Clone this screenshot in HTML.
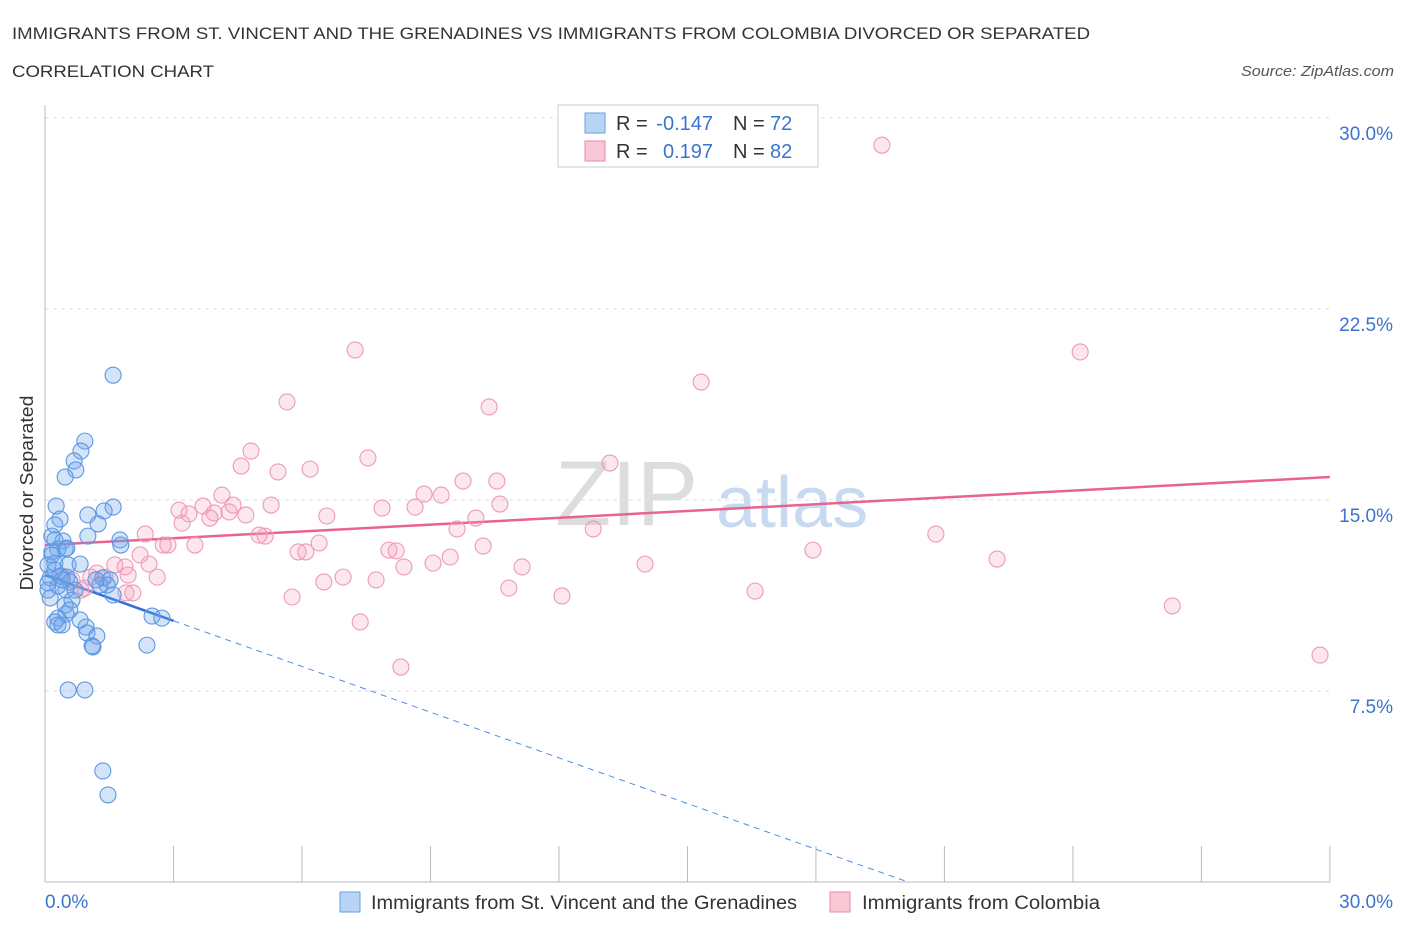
<!DOCTYPE html>
<html><head><meta charset="utf-8"><style>
body{margin:0;background:#fff;font-family:"Liberation Sans",sans-serif;}
svg text{font-family:"Liberation Sans",sans-serif;}
</style></head><body>
<svg id="c" width="1406" height="930" xmlns="http://www.w3.org/2000/svg">
<text x="12" y="39" font-size="17" fill="#333" textLength="1078" lengthAdjust="spacingAndGlyphs">IMMIGRANTS FROM ST. VINCENT AND THE GRENADINES VS IMMIGRANTS FROM COLOMBIA DIVORCED OR SEPARATED</text>
<text x="12" y="77" font-size="17" fill="#333" textLength="202" lengthAdjust="spacingAndGlyphs">CORRELATION CHART</text>
<text x="1241" y="76" font-size="15" fill="#555" font-style="italic" textLength="153" lengthAdjust="spacingAndGlyphs">Source: ZipAtlas.com</text>
<text x="33" y="493" font-size="18" fill="#333" text-anchor="middle" textLength="195" lengthAdjust="spacingAndGlyphs" transform="rotate(-90 33 493)">Divorced or Separated</text>
<g><text x="555" y="525" font-size="92" fill="#ddd" font-family="Liberation Serif">ZIP</text><text x="716" y="527" font-size="72" fill="#c8daf2">atlas</text></g>
<g id="grid"></g><g id="axes"></g><g id="trends"></g><g id="pts"></g>
<g>
<rect x="558" y="105" width="260" height="62" fill="#fff" stroke="#ccc"/>
<rect x="585" y="113" width="20" height="20" fill="#b8d4f5" stroke="#6a9ee0"/>
<rect x="585" y="141" width="20" height="20" fill="#f9c8d6" stroke="#e88aa8"/>
<text x="616" y="130" font-size="20" fill="#333">R =</text>
<text x="713" y="130" font-size="20" fill="#3b73d0" text-anchor="end">-0.147</text>
<text x="733" y="130" font-size="20" fill="#333">N =</text>
<text x="770" y="130" font-size="20" fill="#3b73d0">72</text>
<text x="616" y="158" font-size="20" fill="#333">R =</text>
<text x="713" y="158" font-size="20" fill="#3b73d0" text-anchor="end">0.197</text>
<text x="733" y="158" font-size="20" fill="#333">N =</text>
<text x="770" y="158" font-size="20" fill="#3b73d0">82</text>
</g>
<g>
<rect x="340" y="892" width="20" height="20" fill="#b8d4f5" stroke="#6a9ee0"/>
<text x="371" y="909" font-size="19" fill="#333" textLength="426" lengthAdjust="spacingAndGlyphs">Immigrants from St. Vincent and the Grenadines</text>
<rect x="830" y="892" width="20" height="20" fill="#f9c8d6" stroke="#e88aa8"/>
<text x="862" y="909" font-size="19" fill="#333" textLength="238" lengthAdjust="spacingAndGlyphs">Immigrants from Colombia</text>
</g>
</svg>
<script>
const yTicks=[7.5,15,22.5,30];
const yTickLabels=["7.5%","15.0%","22.5%","30.0%"];
const xTicks=[0,3,6,9,12,15,18,21,24,27,30];
const blueX=[1.59,0.93,0.84,0.68,0.72,0.47,0.26,1.59,1.38,1.00,0.35,1.24,0.23,1.75,1.77,1.00,0.16,0.42,0.47,0.30,0.16,0.51,0.23,0.07,0.54,0.82,0.12,0.35,0.51,0.58,1.35,1.52,1.28,1.45,0.49,0.30,0.70,0.63,1.59,0.12,0.47,0.30,0.49,0.23,0.30,0.40,0.96,0.98,1.21,2.50,2.73,1.10,1.12,2.38,0.54,0.93,1.35,1.47,0.16,0.07,0.23,0.40,0.07,0.58,0.23,0.82,1.19];
const blueY=[19.90,17.31,16.92,16.53,16.18,15.90,14.76,14.72,14.57,14.41,14.25,14.06,14.02,13.43,13.23,13.58,13.58,13.39,13.07,13.07,12.96,13.11,12.52,12.45,12.45,12.48,11.94,12.01,11.97,11.78,11.94,11.86,11.66,11.66,11.46,11.62,11.46,11.07,11.27,11.15,10.87,10.36,10.52,10.21,10.09,10.09,10.01,9.78,9.66,10.44,10.36,9.27,9.23,9.30,7.54,7.54,4.36,3.42,12.84,11.74,12.25,11.86,11.46,10.68,13.43,10.29,11.86];
const pinkX=[19.54,7.24,24.17,15.32,5.65,10.37,4.81,7.54,4.58,13.19,5.44,6.19,9.76,10.55,4.13,8.85,9.25,5.28,3.13,3.69,4.39,3.36,3.95,4.30,4.69,7.87,8.64,10.62,6.58,3.20,3.85,10.06,9.62,12.80,2.34,5.00,5.14,20.80,2.87,2.76,3.50,6.40,10.23,17.93,8.03,8.20,5.91,6.09,2.22,22.23,2.43,9.46,9.06,8.38,14.01,11.14,1.63,1.87,1.94,1.21,2.62,6.96,7.73,6.51,1.07,1.40,10.83,16.58,0.84,1.89,2.05,5.77,12.07,26.32,7.36,29.77,8.31,0.40,0.63,0.93];
const pinkY=[28.93,20.89,20.81,19.63,18.85,18.65,16.92,16.65,16.33,16.45,16.10,16.21,15.74,15.74,15.19,15.23,15.19,14.80,14.60,14.76,14.80,14.45,14.49,14.53,14.41,14.68,14.72,14.84,14.37,14.09,14.29,14.29,13.86,13.86,13.66,13.62,13.58,13.66,13.23,13.23,13.23,13.31,13.19,13.03,13.03,13.00,12.96,12.96,12.84,12.68,12.48,12.76,12.52,12.37,12.48,12.37,12.45,12.37,12.05,12.13,11.97,11.97,11.86,11.78,11.97,11.97,11.54,11.42,11.46,11.35,11.35,11.19,11.23,10.84,10.21,8.91,8.44,12.01,11.86,11.54];
const blueTrend=[12.05,-0.598];
const pinkTrend=[13.23,0.089];
const NS="http://www.w3.org/2000/svg";
const X=v=>45+v*42.83, Y=v=>882-v*25.47;
function mk(t,p,a){const e=document.createElementNS(NS,t);for(const k in a)e.setAttribute(k,a[k]);p.appendChild(e);return e;}
const grid=document.getElementById('grid'),axes=document.getElementById('axes');
yTicks.forEach((v,i)=>{
 const l=mk('line',grid,{x1:45,x2:1330,y1:Y(v),y2:Y(v),stroke:'#ddd','stroke-dasharray':'4,4'});
 
 
 const t=mk('text',axes,{x:1393,y:Y(v)+22,'font-size':19,fill:'#3b73d0','text-anchor':'end'});
 t.textContent=yTickLabels[i];
 
 
});
const ya=mk('line',axes,{x1:45,x2:45,y1:105,y2:882,stroke:'#bbb'});


const xa=mk('line',axes,{x1:45,x2:1330,y1:882,y2:882,stroke:'#bbb'});


xTicks.forEach(v=>{
 const l=mk('line',axes,{x1:X(v),x2:X(v),y1:846,y2:882,stroke:'#bbb'});
 
 
});
[[0,'0.0%','start',45],[30,'30.0%','end',1393]].forEach(d=>{
 const t=mk('text',axes,{x:d[3],y:908,'font-size':19,fill:'#3b73d0','text-anchor':d[2]});
 t.textContent=d[1];
 
 
});
const pts=document.getElementById('pts');
function dots(xs,ys,fill,stroke,name){xs.forEach((x,i)=>{
 const c=mk('circle',pts,{cx:X(x),cy:Y(ys[i]),r:8,fill:fill,stroke:stroke,'stroke-width':1.1});
 
 
});}
dots(pinkX,pinkY,'rgba(244,160,188,0.25)','#ee9ab5','point-colombia');
dots(blueX,blueY,'rgba(110,165,235,0.3)','#5d97e2','point-vincent');
const tr=document.getElementById('trends');
const bEnd=-blueTrend[0]/blueTrend[1];
const b1=mk('line',tr,{x1:X(0),y1:Y(blueTrend[0]),x2:X(3),y2:Y(blueTrend[0]+blueTrend[1]*3),stroke:'#2f6fd6','stroke-width':2.5});


const b2=mk('line',tr,{x1:X(3),y1:Y(blueTrend[0]+blueTrend[1]*3),x2:X(bEnd),y2:Y(0),stroke:'#4f8ee0','stroke-width':1,'stroke-dasharray':'6,5'});


const p1=mk('line',tr,{x1:X(0),y1:Y(pinkTrend[0]),x2:X(30),y2:Y(pinkTrend[0]+pinkTrend[1]*30),stroke:'#e8648e','stroke-width':2.5});


</script>
</body></html>
